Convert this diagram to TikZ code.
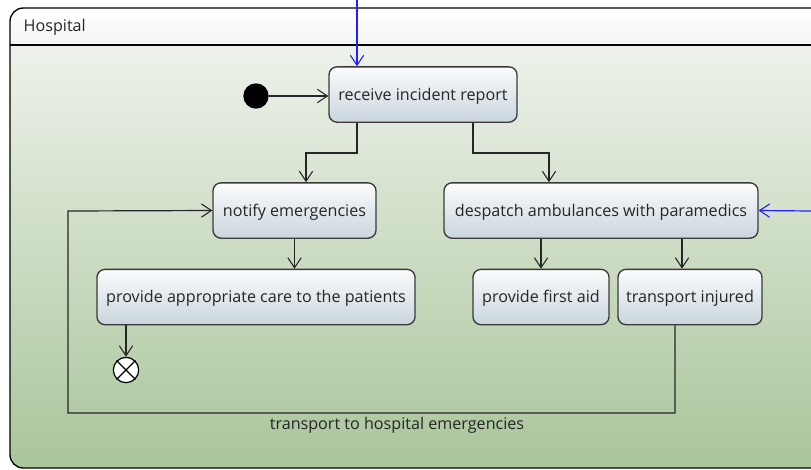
\documentclass[tikz,border=0pt]{standalone}
\usepackage{fontspec}
\setmainfont{Open Sans}
\usetikzlibrary{arrows.meta,calc}
\definecolor{bodytop}{HTML}{EEF2EB}
\definecolor{bodybot}{HTML}{A9C59A}
\definecolor{headtop}{HTML}{FFFFFF}
\definecolor{headbot}{HTML}{F3F5F1}
\definecolor{acttop}{HTML}{FBFCFD}
\definecolor{actbot}{HTML}{C9D5DD}
\definecolor{actline}{HTML}{3A3A3A}
\definecolor{inblue}{HTML}{1E1EFF}
\tikzset{
  act/.style={draw=actline, line width=1pt, rounded corners=6pt,
    top color=acttop, bottom color=actbot, minimum height=41.5pt,
    inner sep=0pt, text height=10.5pt, text depth=1.9pt,
    font=\fontsize{12.1pt}{14pt}\selectfont, text=black!85},
  flow/.style={draw=black!85, line width=0.9pt,
    -{Straight Barb[length=7.5pt,width=10pt,line width=0.8pt]}},
  inflow/.style={draw=inblue, line width=0.9pt,
    -{Straight Barb[length=7.5pt,width=10pt,line width=0.8pt]}},
  startdot/.style={circle, fill=black, minimum size=19pt, inner sep=0pt},
  enddot/.style={circle, draw=black, fill=white, line width=0.9pt,
    minimum size=19pt, inner sep=0pt},
  lbl/.style={font=\fontsize{12.1pt}{14pt}\selectfont, text=black!85}
}
\begin{document}
\begin{tikzpicture}[x=0.75pt, y=-0.75pt]
  \useasboundingbox (0,0) rectangle (811,469);
  \clip (0,0) rectangle (811,469);

  % activity frame: header band and shaded body
  \begin{scope}
    \clip[rounded corners=10pt] (10,8) rectangle (840,468);
    \shade[top color=headtop, bottom color=headbot] (10,8) rectangle (840,45);
    \shade[top color=bodytop, bottom color=bodybot] (10,45) rectangle (840,468);
  \end{scope}
  \draw[line width=1pt, rounded corners=10pt] (10,8) rectangle (840,468);
  \draw[line width=0.8pt] (10,45) -- (840,45);
  \node[anchor=west, lbl] (title) at (19,27) {Hospital};

  % nodes
  \node[startdot] (start) at (256,96) {};
  \node[act, minimum width=141pt] (recv) at (423,94.5) {receive incident report};
  \node[act, minimum width=122.25pt] (notify) at (294.5,210.5) {notify emergencies};
  \node[act, minimum width=235.5pt] (desp) at (601,210.5) {despatch ambulances with paramedics};
  \node[act, minimum width=238.5pt] (care) at (256,297) {provide appropriate care to the patients};
  \node[act, minimum width=102pt] (aid) at (541,297) {provide first aid};
  \node[act, minimum width=108pt] (trans) at (690,297) {transport injured};
  \node[enddot] (final) at (126,370) {};
  \draw[line width=0.9pt] (final.north west) -- (final.south east)
                          (final.north east) -- (final.south west);

  % routing points
  \coordinate (inTop) at (357,0);
  \coordinate (inRight) at (811,211);
  \coordinate (sa) at (357,153);
  \coordinate (sb) at (306,153);
  \coordinate (sc) at (473,153);
  \coordinate (sd) at (549,153);
  \coordinate (te) at (682,240);
  \coordinate (la) at (675,413);
  \coordinate (lb) at (68,413);
  \coordinate (lc) at (68,211);

  % incoming flows
  \draw[inflow] (inTop) -- (inTop |- recv.north);
  \draw[inflow] (inRight) -- (desp.east);

  % control flows
  \draw[flow] (start) -- (recv.west |- start);
  \draw[flow] (recv.south -| sa) -- (sa) -- (sb) -- (notify.north -| sb);
  \draw[flow] (recv.south -| sc) -- (sc) -- (sd) -- (desp.north -| sd);
  \draw[flow] (notify.south) -- (notify.south |- care.north);
  \draw[flow] (care.south -| final) -- (final.north);
  \draw[flow] (desp.south -| aid) -- (aid.north);
  \draw[flow] (desp.south -| te) -- (trans.north -| te);
  \draw[flow] (trans.south -| la) -- (la) -- (lb) -- (lc) -- (notify.west);
  \node[lbl] (looplbl) at (397,425) {transport to hospital emergencies};
\end{tikzpicture}
\end{document}
